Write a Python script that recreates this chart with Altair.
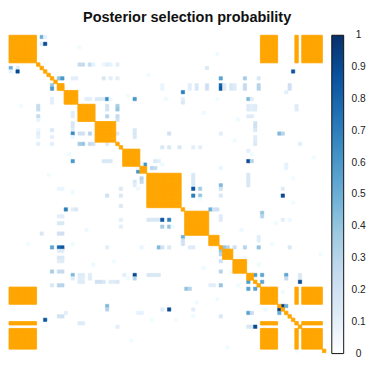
import altair as alt
import pandas as pd

N_VARS = 92
TITLE = "Posterior selection probability"
BLOCKS = [
    [0,1,2,3,4,5,6,7,73,74,75,76,77,83,85,86,87,88,89,90],
    [14,15],[16,17,18,19],[20,21,22,23,24],[25,26,27,28,29,30],
    [33,34,35,36,37],[38,39],[40,41,42,43,44,45,46,47,48,49],
    [51,52,53,54,55,56,57],[58,59,60],[62,63,64],[65,66,67,68],[69,70],
]
SINGLES = [8,9,10,11,12,13,31,32,50,61,71,72,78,79,80,81,82,84,91]

CELL_I = [0,0,2,2,8,8,8,8,8,8,8,8,9,10,
          12,12,12,12,12,12,12,12,12,12,
          14,14,14,14,14,14,14,14,14,14,14,
          15,15,15,15,15,15,15,15,15,15,15,
          16,16,18,18,18,18,18,18,18,18,18,18,18,18,18,18,19,
          20,20,20,20,20,20,21,21,21,21,21,21,23,23,23,23,24,
          25,26,26,27,27,28,28,28,28,28,29,29,30,31,31,31,
          32,32,32,32,32,33,36,36,36,36,37,37,37,37,38,38,38,38,40,41,42,43,40,41,42,43,43,
          44,44,44,44,46,46,46,46,50,50,50,51,52,52,53,53,53,58,59,
          61,61,61,61,61,61,69,69,69,69,70,70,71,71,78,78,
          3,5,11,22,34,35,47,48,54,56,60,63,66,74,30,17,24,41,64,83]
CELL_J = [9,10,9,10,20,21,23,24,27,28,29,31,57,82,
          14,15,18,19,27,29,31,61,68,72,
          52,54,57,61,62,64,65,68,72,81,44,
          52,54,57,61,62,64,65,68,72,81,44,
          50,80,25,26,27,28,36,22,23,50,69,70,12,29,45,60,50,
          28,31,69,70,71,83,28,31,69,70,71,83,28,31,69,70,31,
          71,71,27,36,71,36,46,61,78,79,36,71,71,84,28,71,
          44,46,49,53,55,69,42,43,69,70,39,80,38,44,41,42,61,80,53,53,53,53,69,69,69,69,61,
          53,55,61,79,53,55,61,79,58,59,60,73,73,61,61,79,81,72,72,
          62,63,65,68,72,81,71,80,84,73,80,84,73,84,79,80,
          20,60,40,56,70,88,55,82,77,67,76,90,72,79,65,34,66,82,68,91]
CELL_P = [.5,.08,.12,.9,.25,.25,.25,.08,.05,.1,.08,.1,.15,.85,
          .4,.6,.06,.1,.15,.1,.1,.55,.35,.15,
          .1,.15,.2,.8,.12,.15,.12,.25,.3,.2,.06,
          .1,.15,.2,.85,.12,.15,.12,.25,.3,.2,.06,
          .7,.1,.15,.15,.12,.65,.6,.1,.1,.1,.45,.12,.1,.05,.04,.03,.15,
          .2,.35,.12,.1,.12,.12,.2,.4,.12,.1,.12,.12,.3,.25,.12,.12,.2,
          .2,.2,.05,.15,.15,.15,.2,.1,.45,.3,.15,.12,.12,.1,.12,.15,
          .15,.15,.15,.1,.1,.1,.15,.1,.9,.3,.62,.08,.05,.04,.3,.25,.06,.08,.15,.15,.15,.15,.15,.15,.15,.15,.45,
          .85,.35,.2,.12,.7,.4,.15,.9,.5,.2,.2,.4,.3,.12,.12,.1,.04,.1,.1,
          .4,.3,.2,.3,.4,.15,.58,.55,.15,.55,.25,.15,.55,.9,.95,.5,
          .03,.03,.03,.04,.03,.03,.03,.03,.03,.04,.03,.03,.03,.04,.03,.03,.04,.03,.04,.03]

BLUES = ["#FFFFFF","#DEEBF7","#C6DBEF","#9ECAE1","#6BAED6","#4292C6","#2171B5","#08519C","#08306B"]
TICKS = [0,.1,.2,.3,.4,.5,.6,.7,.8,.9,1]
TICK_LABELS = ["0","0.1","0.2","0.3","0.4","0.5","0.6","0.7","0.8","0.9","1"]
ORANGE = "#FFA500"

blue = {}
for i, j, p in zip(CELL_I, CELL_J, CELL_P):
    blue[(i, j)] = p
    blue[(j, i)] = p
blue_df = pd.DataFrame([{"col": c, "row": r, "p": p} for (r, c), p in blue.items() if r != c])
orange_rows = []
for b in BLOCKS:
    orange_rows += [{"col": c, "row": r} for r in b for c in b]
orange_rows += [{"col": s, "row": s} for s in SINGLES]
orange_df = pd.DataFrame(orange_rows)

order = list(range(N_VARS))
xenc = alt.X("col:O", scale=alt.Scale(domain=order, paddingInner=0, paddingOuter=0), axis=None)
yenc = alt.Y("row:O", scale=alt.Scale(domain=order, paddingInner=0, paddingOuter=0), axis=None)
color_scale = alt.Scale(domain=[i / 8 for i in range(9)], range=BLUES, clamp=True)

probs = alt.Chart(blue_df).mark_rect(strokeWidth=0.5).encode(
    x=xenc, y=yenc,
    color=alt.Color("p:Q", scale=color_scale, legend=None),
    stroke=alt.Stroke("p:Q", scale=color_scale, legend=None))
blocks = alt.Chart(orange_df).mark_rect(color=ORANGE, stroke=ORANGE, strokeWidth=0.8).encode(x=xenc, y=yenc)
matrix = (probs + blocks).properties(width=319.5, height=320)

bar_scale = alt.Scale(domain=[0, 1], nice=False)
bar = alt.Chart(pd.DataFrame({"lo": [0.0], "hi": [1.0]})).mark_rect(
    stroke="#111111", strokeWidth=1,
    fill=alt.Gradient(gradient="linear", x1=0, x2=0, y1=1, y2=0,
                      stops=[alt.GradientStop(color=c, offset=k / 8) for k, c in enumerate(BLUES)]),
).encode(
    x=alt.value(0), x2=alt.value(12),
    y=alt.Y("lo:Q", scale=bar_scale,
            axis=alt.Axis(orient="right", values=TICKS, labels=False, title=None, domain=False, grid=False,
                          tickColor="#111111", tickSize=3, tickWidth=1)),
    y2="hi:Q",
)
bar_labels = alt.Chart(pd.DataFrame({"v": TICKS, "t": TICK_LABELS})).mark_text(
    align="center", baseline="middle", fontSize=10.3, font="Liberation Sans", color="#222222",
).encode(x=alt.value(27), y=alt.Y("v:Q", scale=bar_scale, axis=None), text="t:N")
colorbar = (bar + bar_labels).properties(width=12, height=321)

chart = alt.hconcat(matrix, colorbar, spacing=4.5).properties(
    padding=0,
    title=alt.TitleParams(TITLE, anchor="middle", fontSize=14.6, font="Liberation Sans", fontWeight="bold",
                          color="#111111", offset=6),
).configure_view(stroke=None)

chart.save("out.html", embed_options={"renderer": "svg", "actions": False})
